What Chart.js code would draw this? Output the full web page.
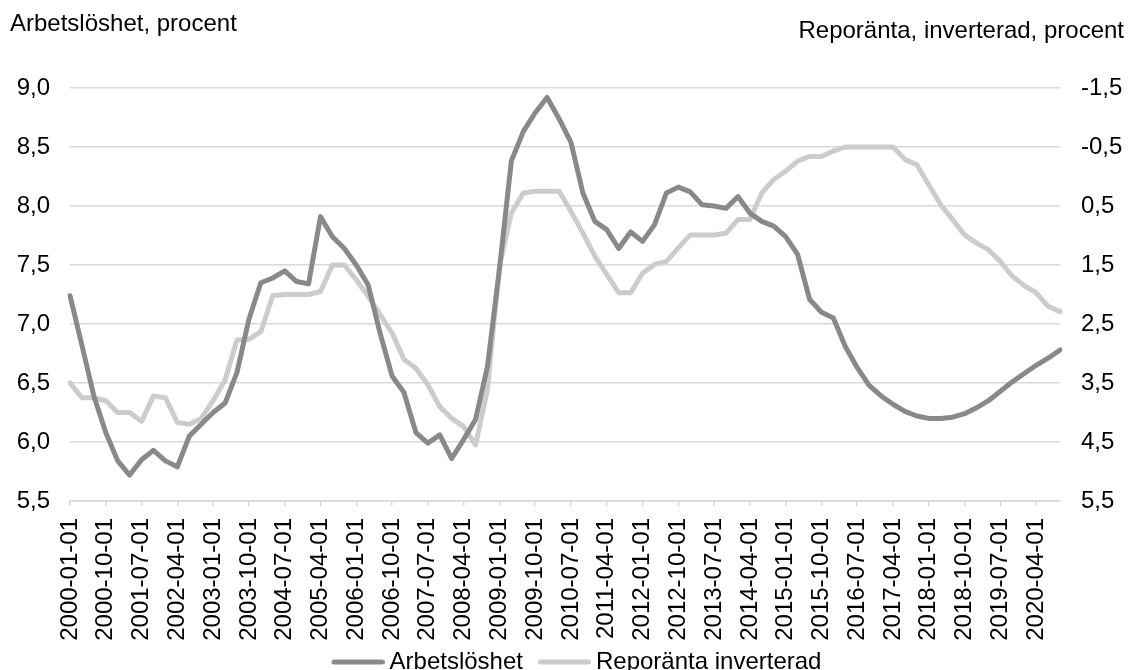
<!DOCTYPE html>
<html lang="sv">
<head>
<meta charset="utf-8">
<title>Arbetslöshet och reporänta</title>
<script src="https://cdn.jsdelivr.net/npm/chart.js@4.4.1/dist/chart.umd.min.js"></script>
<style>
  html, body { margin: 0; padding: 0; background: #fff; overflow: hidden; }
  #wrap { width: 1132px; height: 684px; }
</style>
</head>
<body>
<div id="wrap"><canvas id="chart" width="1132" height="684"></canvas></div>
<script>
// quarterly dates, 2000Q1 - 2020Q4
const quarters = [
  '2000-01-01','2000-04-01','2000-07-01','2000-10-01',
  '2001-01-01','2001-04-01','2001-07-01','2001-10-01',
  '2002-01-01','2002-04-01','2002-07-01','2002-10-01',
  '2003-01-01','2003-04-01','2003-07-01','2003-10-01',
  '2004-01-01','2004-04-01','2004-07-01','2004-10-01',
  '2005-01-01','2005-04-01','2005-07-01','2005-10-01',
  '2006-01-01','2006-04-01','2006-07-01','2006-10-01',
  '2007-01-01','2007-04-01','2007-07-01','2007-10-01',
  '2008-01-01','2008-04-01','2008-07-01','2008-10-01',
  '2009-01-01','2009-04-01','2009-07-01','2009-10-01',
  '2010-01-01','2010-04-01','2010-07-01','2010-10-01',
  '2011-01-01','2011-04-01','2011-07-01','2011-10-01',
  '2012-01-01','2012-04-01','2012-07-01','2012-10-01',
  '2013-01-01','2013-04-01','2013-07-01','2013-10-01',
  '2014-01-01','2014-04-01','2014-07-01','2014-10-01',
  '2015-01-01','2015-04-01','2015-07-01','2015-10-01',
  '2016-01-01','2016-04-01','2016-07-01','2016-10-01',
  '2017-01-01','2017-04-01','2017-07-01','2017-10-01',
  '2018-01-01','2018-04-01','2018-07-01','2018-10-01',
  '2019-01-01','2019-04-01','2019-07-01','2019-10-01',
  '2020-01-01','2020-04-01','2020-07-01','2020-10-01'
];

// Arbetslöshet, procent (left axis)
const unemployment = [
  7.24, 6.82, 6.39, 6.08, 5.84, 5.72, 5.85, 5.93, 5.84, 5.79,
  6.05, 6.15, 6.25, 6.33, 6.59, 7.04, 7.35, 7.39, 7.45, 7.36,
  7.34, 7.91, 7.74, 7.64, 7.50, 7.33, 6.92, 6.56, 6.42, 6.08,
  5.99, 6.06, 5.86, 6.02, 6.19, 6.64, 7.46, 8.38, 8.63, 8.79,
  8.92, 8.74, 8.54, 8.11, 7.87, 7.80, 7.64, 7.78, 7.70, 7.84,
  8.11, 8.16, 8.12, 8.01, 8.00, 7.98, 8.08, 7.94, 7.87, 7.83,
  7.74, 7.59, 7.21, 7.10, 7.05, 6.81, 6.63, 6.48, 6.39, 6.32,
  6.26, 6.22, 6.20, 6.20, 6.21, 6.24, 6.29, 6.35, 6.43, 6.51,
  6.58, 6.65, 6.71, 6.78
];

// Reporänta, procent (right axis, inverted)
const repoRate = [
  3.50, 3.75, 3.75, 3.80, 4.00, 4.00, 4.15, 3.72, 3.75, 4.17,
  4.20, 4.10, 3.80, 3.45, 2.77, 2.76, 2.63, 2.02, 2.00, 2.00,
  2.00, 1.95, 1.50, 1.50, 1.75, 2.03, 2.34, 2.65, 3.10, 3.25,
  3.53, 3.90, 4.10, 4.24, 4.55, 3.61, 1.52, 0.62, 0.28, 0.25,
  0.25, 0.25, 0.59, 0.96, 1.35, 1.66, 1.97, 1.97, 1.64, 1.49,
  1.44, 1.21, 0.99, 0.99, 0.99, 0.96, 0.73, 0.73, 0.28, 0.05,
  -0.09, -0.26, -0.34, -0.34, -0.43, -0.50, -0.50, -0.50, -0.50, -0.50,
  -0.29, -0.20, 0.14, 0.48, 0.73, 0.99, 1.13, 1.24, 1.44, 1.69,
  1.85, 1.97, 2.20, 2.29
];

const leftTicks = [5.5, 6.0, 6.5, 7.0, 7.5, 8.0, 8.5, 9.0];
const rightTicks = [-1.5, -0.5, 0.5, 1.5, 2.5, 3.5, 4.5, 5.5];

const leftTitle = 'Arbetslöshet, procent';
const rightTitle = 'Reporänta, inverterad, procent';

const fontFamily = '"Liberation Sans", Arial, Helvetica, sans-serif';
const gridColor = '#d9d9d9';
const darkGrey = '#898989';
const lightGrey = '#cccccc';

Chart.defaults.font.family = fontFamily;
Chart.defaults.font.size = 24;
Chart.defaults.color = '#000';

function comma(v) {
  return v.toFixed(1).replace('.', ',');
}

// legend symbol: a 53px thick line at the right end of a 67px image,
// so it ends just before the text and leaves a gap to the previous item
function legendLine(color) {
  const c = document.createElement('canvas');
  c.width = 67;
  c.height = 8;
  const g = c.getContext('2d');
  g.strokeStyle = color;
  g.lineWidth = 5;
  g.lineCap = 'round';
  g.beginPath();
  g.moveTo(16.5, 4);
  g.lineTo(64.5, 4);
  g.stroke();
  return c;
}

// axis titles over the plot, one per side
const axisTitles = {
  id: 'axisTitles',
  afterDraw(chart) {
    const ctx = chart.ctx;
    ctx.save();
    ctx.font = '24px ' + fontFamily;
    ctx.fillStyle = '#000';
    ctx.textBaseline = 'alphabetic';
    ctx.textAlign = 'left';
    ctx.fillText(leftTitle, 10, 31);
    ctx.textAlign = 'right';
    ctx.fillText(rightTitle, 1124, 38);
    ctx.restore();
  }
};

// the legend sits a little right of the canvas centre in the original
const legendShift = {
  id: 'legendShift',
  afterLayout(chart) {
    if (chart.legend) {
      chart.legend.left += 7;
      chart.legend.right += 7;
    }
  }
};

const ctx = document.getElementById('chart').getContext('2d');
new Chart(ctx, {
  type: 'line',
  data: {
    labels: quarters,
    datasets: [
      {
        label: 'Arbetslöshet',
        data: unemployment,
        yAxisID: 'yLeft',
        borderColor: darkGrey,
        backgroundColor: darkGrey,
        borderWidth: 5,
        borderCapStyle: 'round',
        borderJoinStyle: 'round',
        pointRadius: 0,
        pointStyle: legendLine(darkGrey),
        tension: 0
      },
      {
        label: 'Reporänta inverterad',
        data: repoRate,
        yAxisID: 'yRight',
        borderColor: lightGrey,
        backgroundColor: lightGrey,
        borderWidth: 5,
        borderCapStyle: 'round',
        borderJoinStyle: 'round',
        pointRadius: 0,
        pointStyle: legendLine(lightGrey),
        tension: 0
      }
    ]
  },
  options: {
    responsive: false,
    animation: false,
    layout: {
      padding: { top: 88, left: 0, right: 0, bottom: 0 }
    },
    plugins: {
      legend: {
        position: 'bottom',
        labels: {
          usePointStyle: true,
          pointStyleWidth: 53,
          boxHeight: 20,
          padding: 8,
          font: { size: 24 }
        }
      },
      tooltip: { enabled: false }
    },
    scales: {
      x: {
        offset: false,
        grid: {
          drawOnChartArea: false,
          drawTicks: true,
          tickLength: 5,
          color: gridColor,
          lineWidth: 1.5
        },
        border: { color: gridColor, width: 1.5 },
        ticks: {
          autoSkip: false,
          maxRotation: 90,
          minRotation: 90,
          padding: 12,
          callback: function(value, index) {
            return index % 3 === 0 ? quarters[index] : null;
          }
        },
        afterFit: function(scale) { scale.height = 141; }
      },
      yLeft: {
        position: 'left',
        min: 5.5,
        max: 9.0,
        afterBuildTicks: function(scale) {
          scale.ticks = leftTicks.map(v => ({ value: v }));
        },
        grid: { color: gridColor, lineWidth: 1.5, drawTicks: false },
        border: { display: false },
        ticks: {
          padding: 20,
          callback: function(value) { return comma(value); }
        },
        afterFit: function(scale) { scale.width = 70; }
      },
      yRight: {
        position: 'right',
        reverse: true,
        min: -1.5,
        max: 5.5,
        afterBuildTicks: function(scale) {
          scale.ticks = rightTicks.map(v => ({ value: v }));
        },
        grid: { drawOnChartArea: false, drawTicks: false },
        border: { display: false },
        ticks: {
          padding: 21,
          callback: function(value) { return comma(value); }
        },
        afterFit: function(scale) { scale.width = 72; }
      }
    }
  },
  plugins: [axisTitles, legendShift]
});
</script>
</body>
</html>
